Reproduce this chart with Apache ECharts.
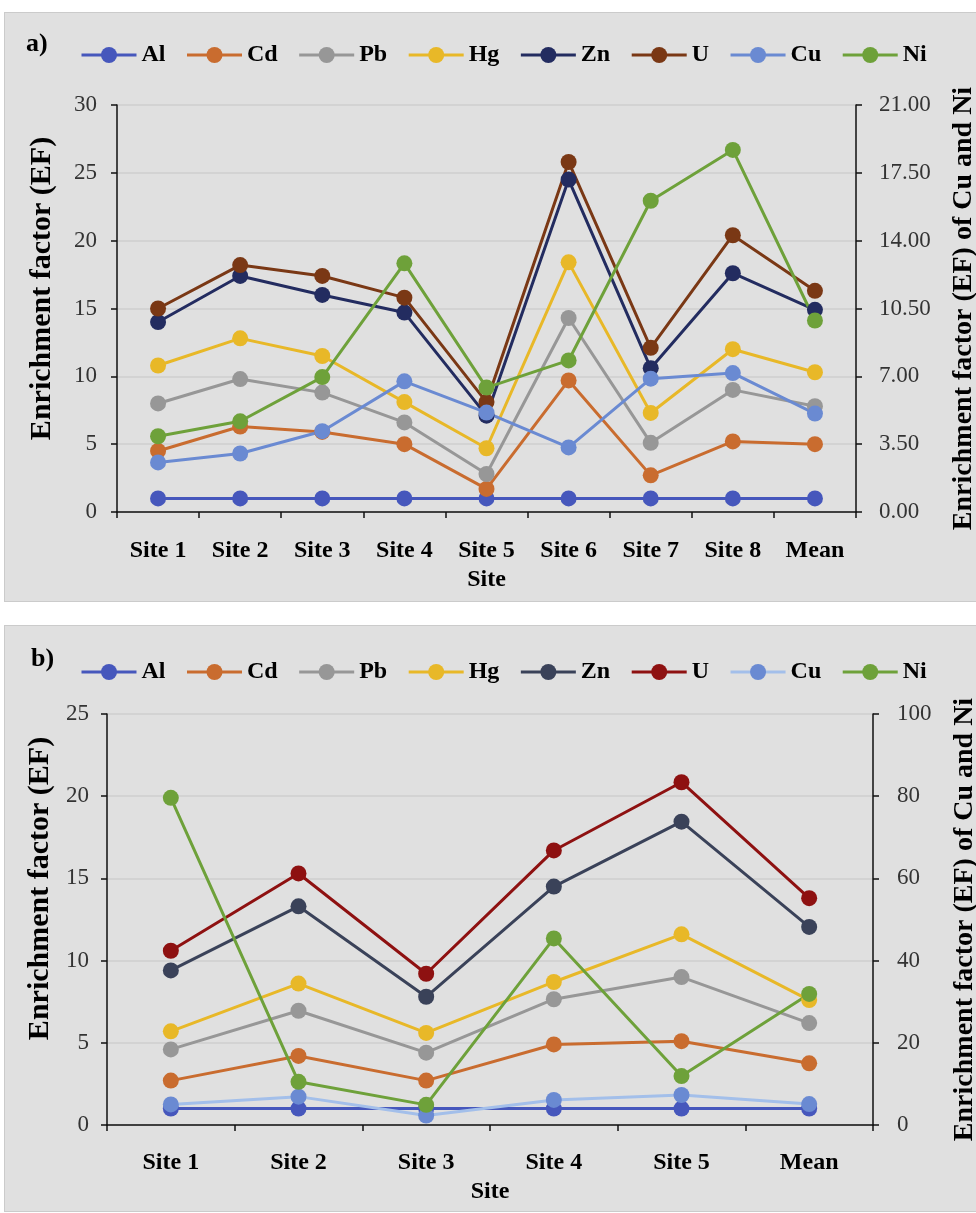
<!DOCTYPE html>
<html><head><meta charset="utf-8">
<script src="https://cdn.jsdelivr.net/npm/echarts@6/dist/echarts.min.js"></script>
<style>
body{margin:0;background:#fff;width:976px;height:1213px;position:relative;overflow:hidden}
.panel{position:absolute;left:4px;width:976px;background:#e0e0e0;border:1px solid #cbcbcb;box-sizing:border-box}
#pa{top:12px;height:590px}
#pb{top:625px;height:587px}
</style></head><body>
<div id="pa" class="panel"></div><div id="pb" class="panel"></div>
<script>
// ---------- Panel a) ----------
const sitesA = ['Site 1','Site 2','Site 3','Site 4','Site 5','Site 6','Site 7','Site 8','Mean'];
const alA = [1, 1, 1, 1, 1, 1, 1, 1, 1];
const cdA = [4.5, 6.3, 5.9, 5.0, 1.7, 9.7, 2.7, 5.2, 5.0];
const pbA = [8.0, 9.8, 8.8, 6.6, 2.8, 14.3, 5.1, 9.0, 7.8];
const hgA = [10.8, 12.8, 11.5, 8.1, 4.7, 18.4, 7.3, 12.0, 10.3];
const znA = [14.0, 17.4, 16.0, 14.7, 7.1, 24.5, 10.6, 17.6, 14.9];
const uA  = [15.0, 18.2, 17.4, 15.8, 8.1, 25.8, 12.1, 20.4, 16.3];
const cuA = [2.56, 3.02, 4.17, 6.74, 5.13, 3.33, 6.88, 7.17, 5.08];   // right axis
const niA = [3.91, 4.68, 6.96, 12.83, 6.42, 7.82, 16.06, 18.68, 9.88]; // right axis

// ---------- Panel b) ----------
const sitesB = ['Site 1','Site 2','Site 3','Site 4','Site 5','Mean'];
const alB = [1, 1, 1, 1, 1, 1];
const cdB = [2.7, 4.2, 2.7, 4.9, 5.1, 3.75];
const pbB = [4.6, 6.95, 4.4, 7.65, 9.0, 6.2];
const hgB = [5.7, 8.6, 5.6, 8.7, 11.6, 7.6];
const znB = [9.4, 13.3, 7.8, 14.5, 18.45, 12.05];
const uB  = [10.6, 15.3, 9.2, 16.7, 20.85, 13.8];
const cuB = [5.0, 6.9, 2.3, 6.1, 7.3, 5.1];        // right axis
const niB = [79.6, 10.5, 4.9, 45.4, 11.9, 31.9];   // right axis

const elements = ['Al','Cd','Pb','Hg','Zn','U','Cu','Ni'];
const FONT = 'Liberation Serif';

function ser(name, data, color, yIdx, lineColor) {
  return {
    name, type:'line', data, yAxisIndex:yIdx,
    symbol:'circle', symbolSize:16,
    lineStyle:{color: lineColor || color, width:3},
    itemStyle:{color},
    emphasis:{disabled:true}
  };
}

function build(c) {
  const axisLine = {show:true, lineStyle:{color:'#111', width:1.5}};
  const axisTick = {show:true, length:6, lineStyle:{color:'#111', width:1.5}};
  return {
    animation:false,
    textStyle:{fontFamily:FONT},
    graphic:[{type:'text', left:c.tagX, top:c.tagY,
      style:{text:c.tag, font:'bold 26px "Liberation Serif"', fill:'#000'}}],
    legend:{left:70, top:c.legendTop, itemWidth:55, itemHeight:20, itemGap:20,
      lineStyle:{width:3},
      textStyle:{fontFamily:FONT, fontWeight:'bold', fontSize:24, color:'#000', lineHeight:24},
      data:elements},
    grid:{left:c.gl, top:c.gt, width:c.gw, height:c.gh, outerBoundsMode:'none', containLabel:false},
    xAxis:{type:'category', data:c.cats, boundaryGap:true,
      axisLine, axisTick,
      axisLabel:{margin:c.xMargin, fontFamily:FONT, fontSize:24, fontWeight:'bold', color:'#000'},
      name:'Site', nameLocation:'middle', nameGap:c.xNameGap,
      nameTextStyle:{fontFamily:FONT, fontSize:24, fontWeight:'bold', color:'#000'}},
    yAxis:[
      {type:'value', min:0, max:c.lMax, interval:c.lInt, axisLine, axisTick,
       axisLabel:{margin:c.lMargin, fontFamily:FONT, fontSize:23, color:'#333'},
       splitLine:{show:true, lineStyle:{color:'#cfcfcf', width:1.5}},
       name:'Enrichment factor (EF)', nameLocation:'middle', nameGap:c.lNameGap,
       nameTextStyle:{fontFamily:FONT, fontSize:30, fontWeight:'bold', color:'#000', padding:[0,0,0,c.lShift]}},
      {type:'value', position:'right', min:0, max:c.rMax, interval:c.rInt, axisLine, axisTick,
       axisLabel:{margin:c.rMargin, fontFamily:FONT, fontSize:23, color:'#333', formatter:c.rFmt},
       splitLine:{show:false},
       name:'Enrichment factor (EF) of Cu and Ni', nameLocation:'middle', nameGap:c.rNameGap,
       nameTextStyle:{fontFamily:FONT, fontSize:28, fontWeight:'bold', color:'#000'}}
    ],
    series:c.series
  };
}

const chartA = echarts.init(document.getElementById('pa'));
chartA.setOption(build({
  tag:'a)', tagX:21, tagY:18, legendTop:25,
  gl:112, gt:92, gw:739, gh:407, cats:sitesA,
  xMargin:27, xNameGap:56,
  lMax:30, lInt:5, lMargin:20, lNameGap:60, lShift:40,
  rMax:21, rInt:3.5, rMargin:23, rNameGap:94, rFmt:v=>v.toFixed(2),
  series:[
    ser('Al', alA, '#4657BC', 0),
    ser('Cd', cdA, '#C96C2F', 0),
    ser('Pb', pbA, '#979797', 0),
    ser('Hg', hgA, '#E8B828', 0),
    ser('Zn', znA, '#232C60', 0),
    ser('U',  uA,  '#7A3815', 0),
    ser('Cu', cuA, '#6A8AD2', 1),
    ser('Ni', niA, '#6EA13A', 1)
  ]
}));

const chartB = echarts.init(document.getElementById('pb'));
chartB.setOption(build({
  tag:'b)', tagX:26, tagY:20, legendTop:29,
  gl:102, gt:88, gw:766, gh:411, cats:sitesB,
  xMargin:26, xNameGap:55,
  lMax:25, lInt:5, lMargin:18, lNameGap:50, lShift:62,
  rMax:100, rInt:20, rMargin:24, rNameGap:78, rFmt:v=>String(v),
  series:[
    ser('Al', alB, '#4657BC', 0),
    ser('Cd', cdB, '#C96C2F', 0),
    ser('Pb', pbB, '#979797', 0),
    ser('Hg', hgB, '#E8B828', 0),
    ser('Zn', znB, '#3A4259', 0),
    ser('U',  uB,  '#8E1111', 0),
    ser('Cu', cuB, '#6A8AD2', 1, '#A3BFEA'),
    ser('Ni', niB, '#6EA13A', 1)
  ]
}));
</script>
</body></html>
